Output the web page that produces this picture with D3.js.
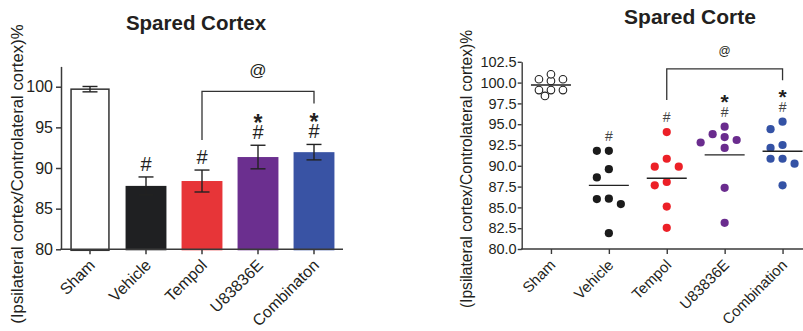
<!DOCTYPE html>
<html>
<head>
<meta charset="utf-8">
<script src="https://cdn.jsdelivr.net/npm/d3@7"></script>
<style>
  body { margin: 0; background: #fff; }
  svg { display: block; font-family: "Liberation Sans", Arial, Helvetica, sans-serif; }
</style>
</head>
<body>
<svg id="chart" width="803" height="331"></svg>
<script>
// ---- data ----
const barCats = ['Sham', 'Vehicle', 'Tempol', 'U83836E', 'Combinaton'];
const barMeans = [99.7, 87.8, 88.4, 91.35, 91.95];
const barSem = [0.33, 1.1, 1.35, 1.45, 0.95];
const barMarks = ['', '#', '#', '#*', '#*'];

const dotCats = ['Sham', 'Vehicle', 'Tempol', 'U83836E', 'Combination'];
const sham = [100.4, 100.2, 100.4, 101.0, 99.1, 98.4, 99.1, 99.1];
const vehicle = [91.8, 91.8, 89.6, 88.6, 86.0, 85.4, 86.05, 81.9];
const tempol = [94.05, 90.85, 89.9, 89.9, 87.65, 88.05, 85.1, 82.55];
const u83836e = [93.8, 93.1, 93.45, 94.7, 92.8, 92.15, 87.35, 83.15];
const combination = [95.3, 94.4, 92.15, 92.5, 90.85, 90.25, 90.85, 87.65];
const dotMarks = ['', '#', '#', '#*', '#*'];

const yTicksLeft = [80, 85, 90, 95, 100];
const yTicksRight = [80, 82.5, 85, 87.5, 90, 92.5, 95, 97.5, 100, 102.5];

// colours
const barColors = ['#ffffff', '#1f2022', '#e73538', '#6b2f8f', '#3953a4'];
const dotColors = ['#ffffff', '#1b1b1b', '#ec2027', '#6a2c8e', '#3452a5'];
const ink = '#231f20';
const axisColor = '#3a3a3a';

const svg = d3.select('#chart');
const yLabel = '(Ipsilateral cortex/Controlateral cortex)%';

// ================= left: bar chart =================
const xL = d3.scaleBand()
  .domain(barCats)
  .range([62, 342])
  .paddingInner(0.27)
  .paddingOuter(0.135);

const yL = d3.scaleLinear()
  .domain([80, 102.5])
  .range([249.3, 66.4]);

const left = svg.append('g');

left.append('text')
  .attr('x', 196)
  .attr('y', 29.5)
  .attr('text-anchor', 'middle')
  .attr('font-size', 20.5)
  .attr('font-weight', 'bold')
  .attr('fill', ink)
  .text('Spared Cortex');

left.append('text')
  .attr('transform', 'translate(22.5,174) rotate(-90)')
  .attr('text-anchor', 'middle')
  .attr('font-size', 16.8)
  .attr('fill', ink)
  .text(yLabel);

// bars
left.append('g')
  .selectAll('rect')
  .data(barCats)
  .join('rect')
  .attr('x', (d, i) => i === 0 ? xL(d) + 1.5 : xL(d))
  .attr('width', (d, i) => i === 0 ? xL.bandwidth() - 3 : xL.bandwidth())
  .attr('y', (d, i) => yL(barMeans[i]))
  .attr('height', (d, i) => yL(80) - yL(barMeans[i]) + 1)
  .attr('fill', (d, i) => barColors[i])
  .attr('stroke', (d, i) => i === 0 ? '#333' : 'none')
  .attr('stroke-width', 1.5);

// error bars
const eb = left.append('g')
  .attr('stroke', '#222')
  .attr('stroke-width', 1.4)
  .selectAll('g')
  .data(barCats)
  .join('g')
  .attr('transform', (d) => `translate(${xL(d) + xL.bandwidth() / 2},0)`);

eb.append('line')
  .attr('y1', (d, i) => yL(barMeans[i] - barSem[i]))
  .attr('y2', (d, i) => yL(barMeans[i] + barSem[i]));
eb.append('line')
  .attr('x1', -7.5).attr('x2', 7.5)
  .attr('y1', (d, i) => yL(barMeans[i] - barSem[i]))
  .attr('y2', (d, i) => yL(barMeans[i] - barSem[i]));
eb.append('line')
  .attr('x1', -7.5).attr('x2', 7.5)
  .attr('y1', (d, i) => yL(barMeans[i] + barSem[i]))
  .attr('y2', (d, i) => yL(barMeans[i] + barSem[i]));

// axes
const axL = left.append('g')
  .attr('transform', 'translate(61,0)')
  .call(d3.axisLeft(yL).tickValues(yTicksLeft).tickSize(5).tickSizeOuter(0).tickPadding(3));
axL.select('.domain').attr('stroke', axisColor).attr('stroke-width', 1.5);
axL.selectAll('.tick line').attr('stroke', axisColor).attr('stroke-width', 1.5);
axL.selectAll('.tick text').attr('font-size', 16).attr('fill', ink).attr('font-family', null);

const axLB = left.append('g')
  .attr('transform', `translate(0,${yL(80)})`)
  .call(d3.axisBottom(xL).tickSize(5).tickSizeOuter(0));
axLB.select('.domain').attr('d', 'M60.3,0H343').attr('stroke', axisColor).attr('stroke-width', 1.5);
axLB.selectAll('.tick line').attr('stroke', axisColor).attr('stroke-width', 1.5);
axLB.selectAll('.tick text')
  .attr('y', 0).attr('dy', 0)
  .attr('text-anchor', 'end')
  .attr('transform', 'translate(6,17) rotate(-45)')
  .attr('font-size', 16)
  .attr('font-family', null)
  .attr('fill', ink);

// significance marks
const markL = {};
barCats.forEach((c, i) => {
  if (!barMarks[i]) return;
  const cx = xL(c) + xL.bandwidth() / 2;
  const hashY = yL(barMeans[i] + barSem[i]) - 13;
  left.append('text')
    .attr('x', cx).attr('y', hashY + 7)
    .attr('text-anchor', 'middle')
    .attr('font-size', 20).attr('fill', ink)
    .text('#');
  let topY = hashY;
  if (barMarks[i].includes('*')) {
    topY = hashY - 15;
    left.append('text')
      .attr('x', cx).attr('y', topY + 14)
      .attr('text-anchor', 'middle')
      .attr('font-size', 23).attr('font-weight', 'bold').attr('fill', ink)
      .text('*');
  }
  markL[c] = { cx, hashY, topY };
});

function bracket(g, a, b, gapA, gapB, rise, label, labelSize, labelGap) {
  const yA = a.topY - gapA;
  const yB = b.topY - gapB;
  const top = Math.min(yA, yB) - rise;
  g.append('path')
    .attr('d', `M${a.cx},${yA}V${top}H${b.cx}V${yB}`)
    .attr('fill', 'none')
    .attr('stroke', '#333')
    .attr('stroke-width', 1.3);
  g.append('text')
    .attr('x', (a.cx + b.cx) / 2)
    .attr('y', top - labelGap + labelSize * 0.26)
    .attr('text-anchor', 'middle')
    .attr('font-size', labelSize)
    .attr('fill', ink)
    .text(label);
}

bracket(left, markL['Tempol'], markL['Combinaton'], 17, 13, 12, '@', 17, 20);

// ================= right: dot plot =================
const groups = [sham, vehicle, tempol, u83836e, combination];

const xR = d3.scalePoint()
  .domain(dotCats)
  .range([522, 811.5])
  .padding(0.5);

const yR = d3.scaleLinear()
  .domain([80, 102.5])
  .range([249, 61.8]);

const right = svg.append('g');

right.append('text')
  .attr('x', 690)
  .attr('y', 24)
  .attr('text-anchor', 'middle')
  .attr('font-size', 21)
  .attr('font-weight', 'bold')
  .attr('fill', ink)
  .text('Spared Corte');

right.append('text')
  .attr('transform', 'translate(472,169) rotate(-90)')
  .attr('text-anchor', 'middle')
  .attr('font-size', 15.6)
  .attr('fill', ink)
  .text(yLabel);

// simple greedy swarm: place each point at the nearest free horizontal slot
function swarm(values, step, minDist) {
  const order = d3.range(values.length).sort((a, b) => values[b] - values[a]);
  const placed = [];
  const out = new Array(values.length);
  const slots = [0, -1, 1, -2, 2];
  order.forEach((idx) => {
    const y = yR(values[idx]);
    let best = null;
    let bestD = -1;
    for (const s of slots) {
      const dx = s * step;
      const d = placed.length ? d3.min(placed, (p) => Math.hypot(p.dx - dx, p.y - y)) : Infinity;
      if (d >= minDist) { best = dx; break; }
      if (d > bestD) { bestD = d; best = dx; }
    }
    placed.push({ dx: best, y });
    out[idx] = { dx: best, y, v: values[idx] };
  });
  return out;
}

groups.forEach((vals, gi) => {
  const cx = xR(dotCats[gi]);
  const pts = gi === 0 ? swarm(vals, 6, 8) : swarm(vals, 12, 8.4);
  right.append('g')
    .selectAll('circle')
    .data(pts)
    .join('circle')
    .attr('cx', (d) => cx + d.dx)
    .attr('cy', (d) => d.y)
    .attr('r', gi === 0 ? 3.8 : 4.1)
    .attr('fill', dotColors[gi])
    .attr('stroke', gi === 0 ? '#222' : 'none')
    .attr('stroke-width', 1.1);

  const m = d3.mean(vals);
  right.append('line')
    .attr('x1', cx - 20).attr('x2', cx + 20)
    .attr('y1', yR(m)).attr('y2', yR(m))
    .attr('stroke', '#222')
    .attr('stroke-width', 1.4);
});

const axR = right.append('g')
  .attr('transform', 'translate(521.7,0)')
  .call(d3.axisLeft(yR).tickValues(yTicksRight).tickFormat(d3.format('.1f'))
    .tickSize(4).tickSizeOuter(0).tickPadding(1));
axR.select('.domain').attr('stroke', axisColor).attr('stroke-width', 1.4);
axR.selectAll('.tick line').attr('stroke', axisColor).attr('stroke-width', 1.4);
axR.selectAll('.tick text').attr('font-size', 14.5).attr('fill', ink).attr('font-family', null);

const axRB = right.append('g')
  .attr('transform', `translate(0,${yR(80)})`)
  .call(d3.axisBottom(xR).tickSize(5).tickSizeOuter(0));
axRB.select('.domain').attr('d', 'M521,0H812').attr('stroke', axisColor).attr('stroke-width', 1.4);
axRB.selectAll('.tick line').attr('stroke', axisColor).attr('stroke-width', 1.4);
axRB.selectAll('.tick text')
  .attr('y', 0).attr('dy', 0)
  .attr('text-anchor', 'end')
  .attr('transform', 'translate(5,17) rotate(-45)')
  .attr('font-size', 15)
  .attr('font-family', null)
  .attr('fill', ink);

const markR = {};
dotCats.forEach((c, i) => {
  if (!dotMarks[i]) return;
  const cx = xR(c);
  const hashY = yR(d3.max(groups[i])) - 15;
  right.append('text')
    .attr('x', cx).attr('y', hashY + 5)
    .attr('text-anchor', 'middle')
    .attr('font-size', 14).attr('fill', '#444')
    .text('#');
  let topY = hashY;
  if (dotMarks[i].includes('*')) {
    topY = hashY - 15.5;
    right.append('text')
      .attr('x', cx).attr('y', topY + 12.8)
      .attr('text-anchor', 'middle')
      .attr('font-size', 21).attr('font-weight', 'bold').attr('fill', ink)
      .text('*');
  }
  markR[c] = { cx, hashY, topY };
});

bracket(right, markR['Tempol'], markR['Combination'], 17, 11, 11.4, '@', 12, 17);
</script>
</body>
</html>
